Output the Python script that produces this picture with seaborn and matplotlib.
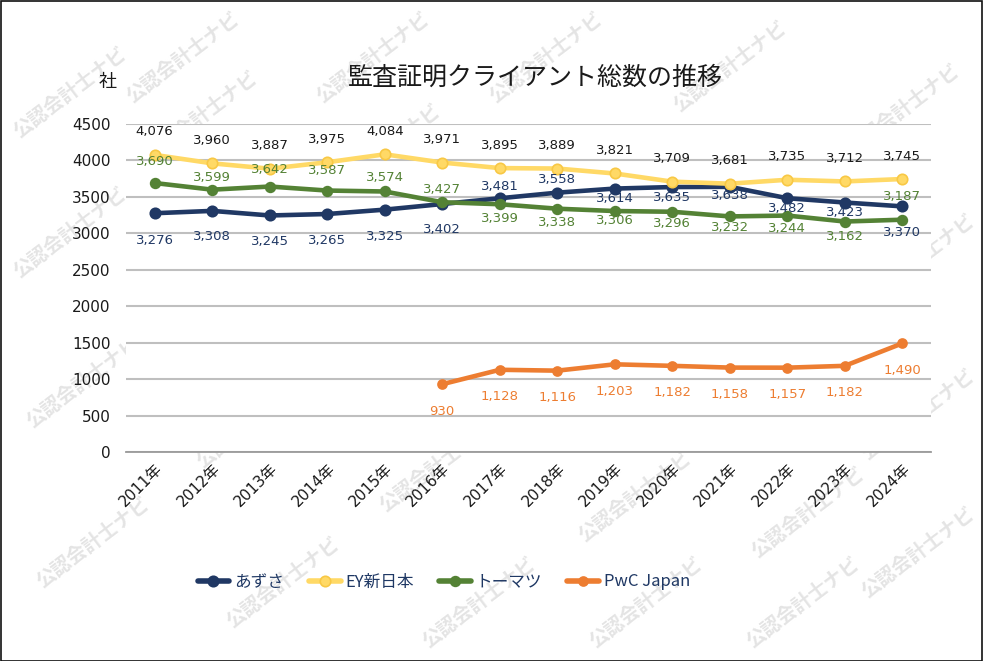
import numpy as np
import pandas as pd
import seaborn as sns
import matplotlib.pyplot as plt
from matplotlib.patches import Rectangle

years = ['2011年', '2012年', '2013年', '2014年', '2015年', '2016年', '2017年',
         '2018年', '2019年', '2020年', '2021年', '2022年', '2023年', '2024年']
azusa = [3276, 3308, 3245, 3265, 3325, 3402, 3481, 3558, 3614, 3635, 3638, 3482, 3423, 3370]
ey = [4076, 3960, 3887, 3975, 4084, 3971, 3895, 3889, 3821, 3709, 3681, 3735, 3712, 3745]
tohmatsu = [3690, 3599, 3642, 3587, 3574, 3427, 3399, 3338, 3306, 3296, 3232, 3244, 3162, 3187]
pwc = [np.nan] * 5 + [930, 1128, 1116, 1203, 1182, 1158, 1157, 1182, 1490]
names = ['あずさ', 'EY新日本', 'トーマツ', 'PwC Japan']

# label offsets in pixels (down = positive, like the picture)
azusa_dy = [27, 26, 26, 26, 27, 25, -12, -13, 10, 10, 9, 10, 10, 26]
ey_dy = [-23] * 14
tohmatsu_dy = [-22, -12, -17, -20, -14, -13, 14, 14, 9, 12, 11, 13, 15, -23]
pwc_dy = [27] * 14

colors = ['#203864', '#FFD966', '#548235', '#ED7D31']
edge_colors = ['#203864', '#F8C845', '#548235', '#ED7D31']
label_colors = ['#203864', '#1a1a1a', '#548235', '#ED7D31']
marker_sizes = [7.5, 7.5, 7, 6.5]

series = [azusa, ey, tohmatsu, pwc]
offsets = [azusa_dy, ey_dy, tohmatsu_dy, pwc_dy]

df = pd.DataFrame({
    'year': years * 4,
    'firm': [n for n in names for _ in years],
    'count': azusa + ey + tohmatsu + pwc,
})

sns.set_style('white')
plt.rcParams['font.family'] = ['DejaVu Sans', 'Noto Sans CJK JP']

W, H = 989, 661
fig = plt.figure(figsize=(W / 100, H / 100), dpi=100)
ax = fig.add_axes([126 / W, 1 - 452 / H, (931 - 126) / W, (452 - 124) / H])
ax.set_facecolor('white')

# watermark (kept inside the picture)
wm_centers = [(183, -17), (373, 0), (546, 43), (31, 93), (201, 117), (384, 150),
              (730, 67), (903, 110), (44, 233), (83, 383), (93, 543), (253, 423),
              (283, 583), (436, 467), (479, 610), (646, 625), (635, 497), (808, 513),
              (951, 415), (952, 553), (803, 653), (966, 260)]
for cx, cy in wm_centers:
    cx = min(max(cx, 70), 918)
    cy = min(max(cy, 58), 603)
    fig.text(cx / W, 1 - cy / H, '公認会計士ナビ', rotation=37, ha='center', va='center',
             fontsize=14, fontweight='bold', color='#e4e4e4',
             family='Noto Sans CJK JP', zorder=-5)

for i, name in enumerate(names):
    sub = df[df['firm'] == name]
    sns.lineplot(data=sub, x='year', y='count', ax=ax, color=colors[i], linewidth=3.3,
                 marker='o', markersize=marker_sizes[i], markerfacecolor=colors[i],
                 markeredgecolor=edge_colors[i], markeredgewidth=1.2, label=name,
                 solid_joinstyle='round', solid_capstyle='round', zorder=3 + i)

for i, vals in enumerate(series):
    for j, v in enumerate(vals):
        if np.isnan(v):
            continue
        ax.annotate(f'{int(v):,}', (j, v), xytext=(0, -offsets[i][j]),
                    textcoords='offset pixels', ha='center', va='center',
                    fontsize=9.5, color=label_colors[i], zorder=10)

ax.set_xlim(-0.5, len(years) - 0.5)
ax.set_ylim(0, 4500)
ax.set_yticks(range(0, 4501, 500))
ax.set_xlabel('')
ax.set_ylabel('')
ax.yaxis.grid(True, color='#bfbfbf', linewidth=1.5)
ax.set_axisbelow(True)
for s in ['top', 'right', 'left']:
    ax.spines[s].set_visible(False)
ax.spines['bottom'].set_color('#9a9a9a')
ax.spines['bottom'].set_linewidth(1.3)
ax.tick_params(axis='y', length=0, pad=11, labelsize=11, labelcolor='#1a1a1a')
ax.tick_params(axis='x', length=0, pad=6, labelsize=11, labelcolor='#1a1a1a')
for lab in ax.get_xticklabels():
    lab.set_rotation(45)
    lab.set_ha('right')
    lab.set_va('top')
    lab.set_rotation_mode('anchor')

fig.text(535 / W, 1 - 78 / H, '監査証明クライアント総数の推移', ha='center', va='center',
         fontsize=18, family='Noto Sans CJK JP', color='#1a1a1a')
fig.text(107.5 / W, 1 - 81.5 / H, '社', ha='center', va='center',
         fontsize=13, family='Noto Sans CJK JP', color='#1a1a1a')

leg = ax.legend(loc='center', bbox_to_anchor=(444 / W, 1 - 582 / H),
                bbox_transform=fig.transFigure, ncol=4, frameon=False,
                prop={'family': 'Noto Sans CJK JP', 'size': 12},
                labelcolor='#1f3864', handlelength=1.9, handletextpad=0.3,
                columnspacing=1.5)
for line in leg.get_lines():
    line.set_linewidth(4)

fig.patches.append(Rectangle((0.5 / W, 0.5 / H), 981 / W, 659.5 / H,
                             transform=fig.transFigure, fill=False,
                             edgecolor='#111111', linewidth=1.2, zorder=20))

fig.savefig('out.png', dpi=100)
